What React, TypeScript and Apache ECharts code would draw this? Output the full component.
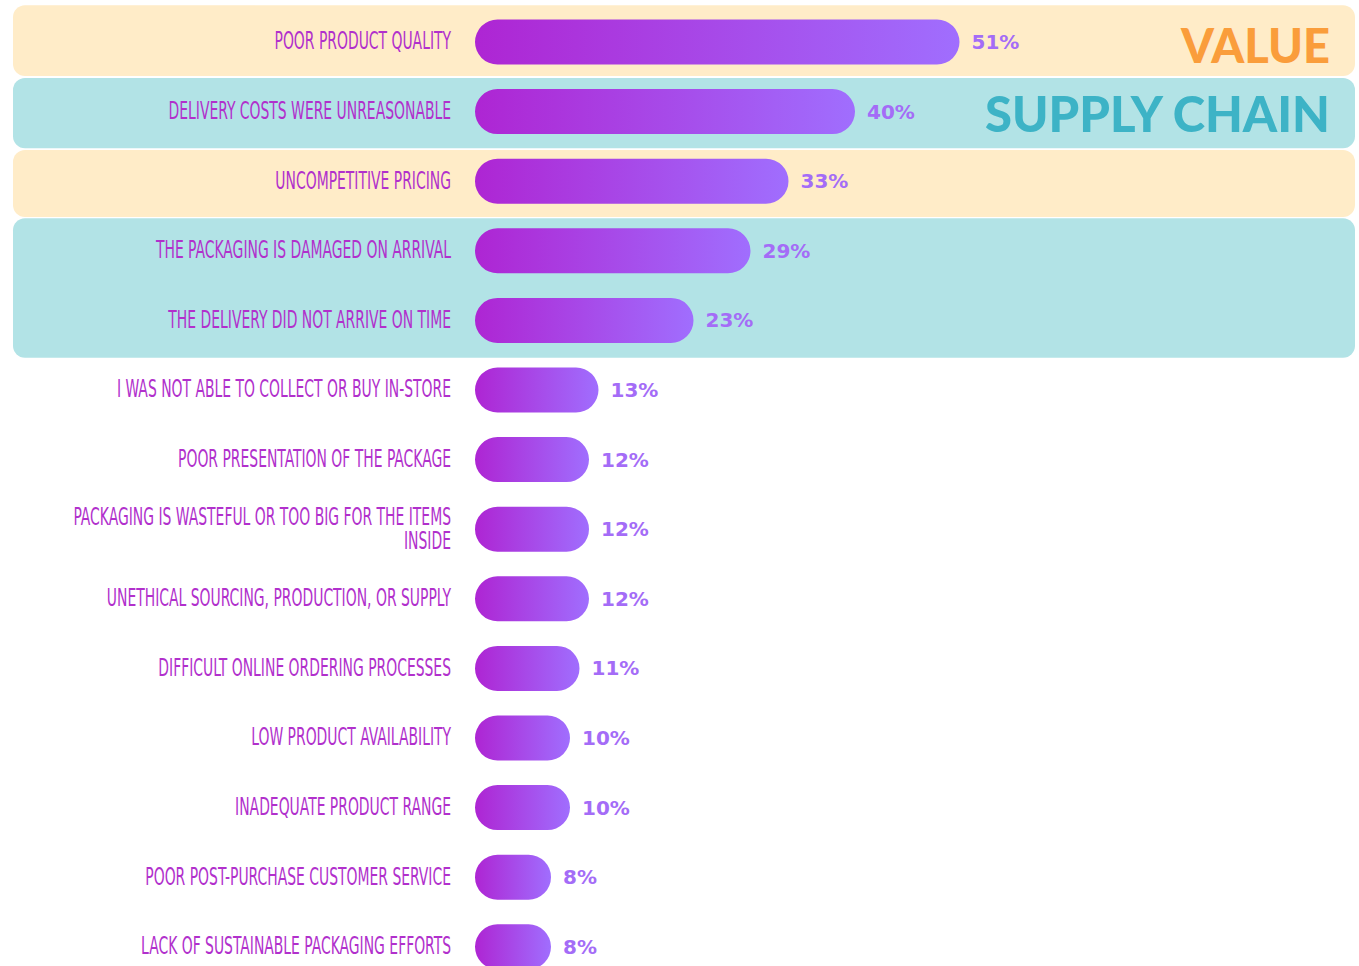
import React, { useEffect, useRef } from "react";
import * as echarts from "echarts";

const categories = [
  "POOR PRODUCT QUALITY",
  "DELIVERY COSTS WERE UNREASONABLE",
  "UNCOMPETITIVE PRICING",
  "THE PACKAGING IS DAMAGED ON ARRIVAL",
  "THE DELIVERY DID NOT ARRIVE ON TIME",
  "I WAS NOT ABLE TO COLLECT OR BUY IN-STORE",
  "POOR PRESENTATION OF THE PACKAGE",
  "PACKAGING IS WASTEFUL OR TOO BIG FOR THE ITEMS\nINSIDE",
  "UNETHICAL SOURCING, PRODUCTION, OR SUPPLY",
  "DIFFICULT ONLINE ORDERING PROCESSES",
  "LOW PRODUCT AVAILABILITY",
  "INADEQUATE PRODUCT RANGE",
  "POOR POST-PURCHASE CUSTOMER SERVICE",
  "LACK OF SUSTAINABLE PACKAGING EFFORTS",
];
const values = [51, 40, 33, 29, 23, 13, 12, 12, 12, 11, 10, 10, 8, 8];

// background bands: first row, last row, kind
const bandFirstRows = [0, 1, 2, 3];
const bandLastRows = [0, 1, 2, 4];
const bandKinds = ["value", "supply", "value", "supply"];
const groupTitles = ["VALUE", "SUPPLY CHAIN"];

// layout (pixels)
const W = 1359;
const H = 966;
const GRID_LEFT = 475;
const GRID_TOP = 7.2;
const ROW_H = 69.6;
const X_MAX = 80;
const PX_PER_UNIT = 9.5;
const BAND_TOP_OFFSET = [-1.9, 1.2, 3.6, 2.3];
const BAND_BOTTOM_OFFSET = [-0.8, 1.9, 1.0, 2.5];
const LABEL_FONT = "'DejaVu Sans Condensed', 'DejaVu Sans', sans-serif";

export default function App() {
  const ref = useRef<HTMLDivElement>(null);
  useEffect(() => {
    document.body.style.margin = "0";
    if (!ref.current) return;
    const chart = echarts.init(ref.current, undefined, { renderer: "svg" });
    const gridWidth = X_MAX * PX_PER_UNIT;
    const gridHeight = ROW_H * categories.length;

    chart.setOption({
      animation: false,
      grid: {
        left: GRID_LEFT,
        top: GRID_TOP,
        width: gridWidth,
        height: gridHeight,
        containLabel: false,
        outerBoundsMode: "none",
      },
      xAxis: { type: "value", min: 0, max: X_MAX, show: false },
      yAxis: {
        type: "category",
        inverse: true,
        data: categories,
        axisLine: { show: false },
        axisTick: { show: false },
        splitLine: { show: false },
        axisLabel: { show: false },
      },
      series: [
        {
          type: "bar",
          data: values,
          barWidth: 45,
          z: 2,
          itemStyle: {
            borderRadius: 22.5,
            color: new echarts.graphic.LinearGradient(0, 0, 1, 0, [
              { offset: 0, color: "#AE25D3" },
              { offset: 1, color: "#A06EFE" },
            ]),
          },
          label: {
            show: true,
            position: "right",
            distance: 12,
            formatter: "{c}%",
            color: "#A46CF7",
            fontSize: 20,
            fontWeight: "bold",
            fontFamily: "'DejaVu Sans', sans-serif",
          },
        },
      ],
    });

    const rowY = (i: number) => chart.convertToPixel({ yAxisIndex: 0 }, i) as number;
    const bandColors: Record<string, string> = { value: "#FFECC8", supply: "#B2E3E6" };
    const graphics: any[] = bandFirstRows.map((r0, i) => {
      const r1 = bandLastRows[i];
      const y0 = rowY(r0) - ROW_H / 2 + BAND_TOP_OFFSET[i];
      const y1 = rowY(r1) + ROW_H / 2 + BAND_BOTTOM_OFFSET[i];
      return {
        type: "rect",
        z: -10,
        silent: true,
        shape: { x: 13, y: y0, width: 1342, height: y1 - y0, r: 12 },
        style: { fill: bandColors[bandKinds[i]] },
      };
    });
    categories.forEach((c, i) => {
      graphics.push({
        type: "text",
        z: 3,
        silent: true,
        x: GRID_LEFT - 24,
        y: rowY(i) - 1,
        scaleX: 0.645,
        style: {
          text: c,
          fill: "#B130CC",
          font: `24px ${LABEL_FONT}`,
          lineHeight: 24,
          textAlign: "right",
          textVerticalAlign: "middle",
        },
      });
    });
    graphics.push({
      type: "text",
      z: 5,
      x: 1330,
      y: rowY(0) + 2.5,
      style: {
        text: groupTitles[0],
        fill: "#FA9D3B",
        font: "900 47px Lato",
        textAlign: "right",
        textVerticalAlign: "middle",
      },
    });
    graphics.push({
      type: "text",
      z: 5,
      x: 1330,
      y: rowY(1) + 1.5,
      style: {
        text: groupTitles[1],
        fill: "#3DB3C6",
        font: "900 49px Lato",
        textAlign: "right",
        textVerticalAlign: "middle",
      },
    });
    chart.setOption({ graphic: { elements: graphics } });

    return () => chart.dispose();
  }, []);
  return <div ref={ref} style={{ width: W, height: H }} />;
}
